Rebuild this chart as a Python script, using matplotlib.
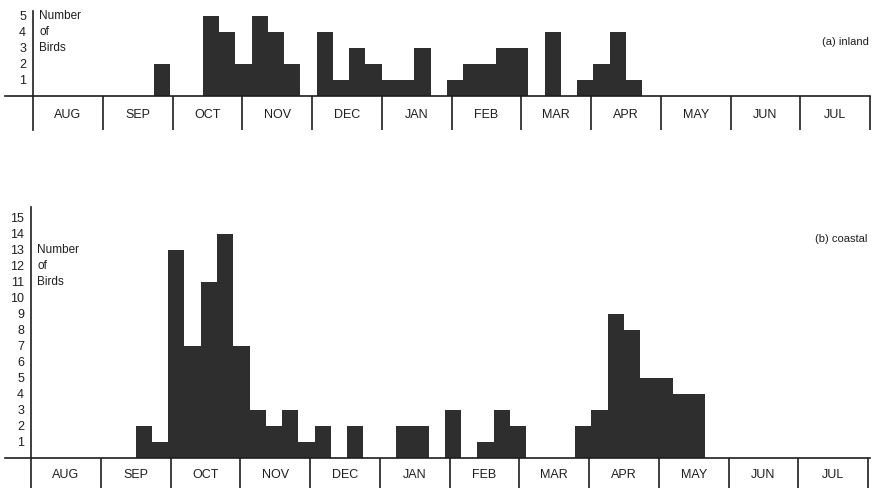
import matplotlib.pyplot as plt

plt.rcParams['font.family'] = ['Liberation Sans', 'DejaVu Sans']

months = ['AUG', 'SEP', 'OCT', 'NOV', 'DEC', 'JAN', 'FEB', 'MAR', 'APR', 'MAY', 'JUN', 'JUL']

# weekly counts, week 0 starts just after 1 Aug
inland = [0, 0, 0, 0, 0, 0, 0, 2, 0, 0,
          5, 4, 2, 5, 4, 2, 0, 4, 1, 3,
          2, 1, 1, 3, 0, 1, 2, 2, 3, 3,
          0, 4, 0, 1, 2, 4, 1]
coastal = [0, 0, 0, 0, 0, 0, 2, 1, 13, 7,
           11, 14, 7, 3, 2, 3, 1, 2, 0, 2,
           0, 0, 2, 2, 0, 3, 0, 1, 3, 2,
           0, 0, 0, 2, 3, 9, 8, 5, 5, 4,
           4]

week = 7 / 30.0      # one week in month units
first = 0.1          # start of first weekly bin
px_month = 69.75     # pixels per month
px_unit = 16.0       # pixels per bird
bar_col = '#2e2e2e'
ink = '#1e1e1e'
W, H = 872, 488

fig = plt.figure(figsize=(W / 100, H / 100), dpi=100)


def panel(top_px, bot_px, origin_px, base_px, counts, ymax_line, ticks, label, label_y, name_y):
    ax = fig.add_axes([0, 1 - bot_px / H, 1, (bot_px - top_px) / H])
    ax.set_xlim(-origin_px / px_month, (W - origin_px) / px_month)
    ylo = -(bot_px - base_px) / px_unit
    ax.set_ylim(ylo, (base_px - top_px) / px_unit)
    ax.patch.set_alpha(0)

    starts = [first + i * week for i in range(len(counts))]
    ax.bar(starts, counts, width=week, align='edge', color=bar_col, linewidth=0)

    # y axis line and baseline
    for s in ['top', 'right', 'bottom']:
        ax.spines[s].set_visible(False)
    ax.spines['left'].set_position(('data', 0))
    ax.spines['left'].set_bounds(ylo, ymax_line)
    ax.spines['left'].set_linewidth(1.2)
    ax.spines['left'].set_color(ink)
    ax.axhline(0, xmin=0.006, xmax=0.998, color=ink, lw=1.2)

    ax.set_yticks(ticks)
    ax.set_yticklabels([str(t) for t in ticks])
    ax.tick_params(axis='y', length=0, pad=5, labelsize=9, labelcolor=ink)
    ax.set_xticks([])

    # month boxes
    ax.vlines(range(1, 13), ylo, 0, color=ink, lw=1.2)
    for i, m in enumerate(months):
        ax.text(i + 0.5, ylo / 2 - 0.1, m, ha='center', va='center', fontsize=9, color=ink)

    for j, word in enumerate(['Number', 'of', 'Birds']):
        ax.text(6 / px_month, name_y - j, word, ha='left', va='center', fontsize=8.5, color=ink)
    ax.text(836 / px_month, label_y, label, ha='right', va='center', fontsize=8, color=ink)
    return ax


panel(0, 130, 33, 96, inland, 5.3, [1, 2, 3, 4, 5], '(a) inland', 3.4, 5)
panel(200, 488, 31, 458, coastal, 15.7, list(range(1, 16)), '(b) coastal', 13.7, 13)

fig.savefig('out.png', dpi=100)
